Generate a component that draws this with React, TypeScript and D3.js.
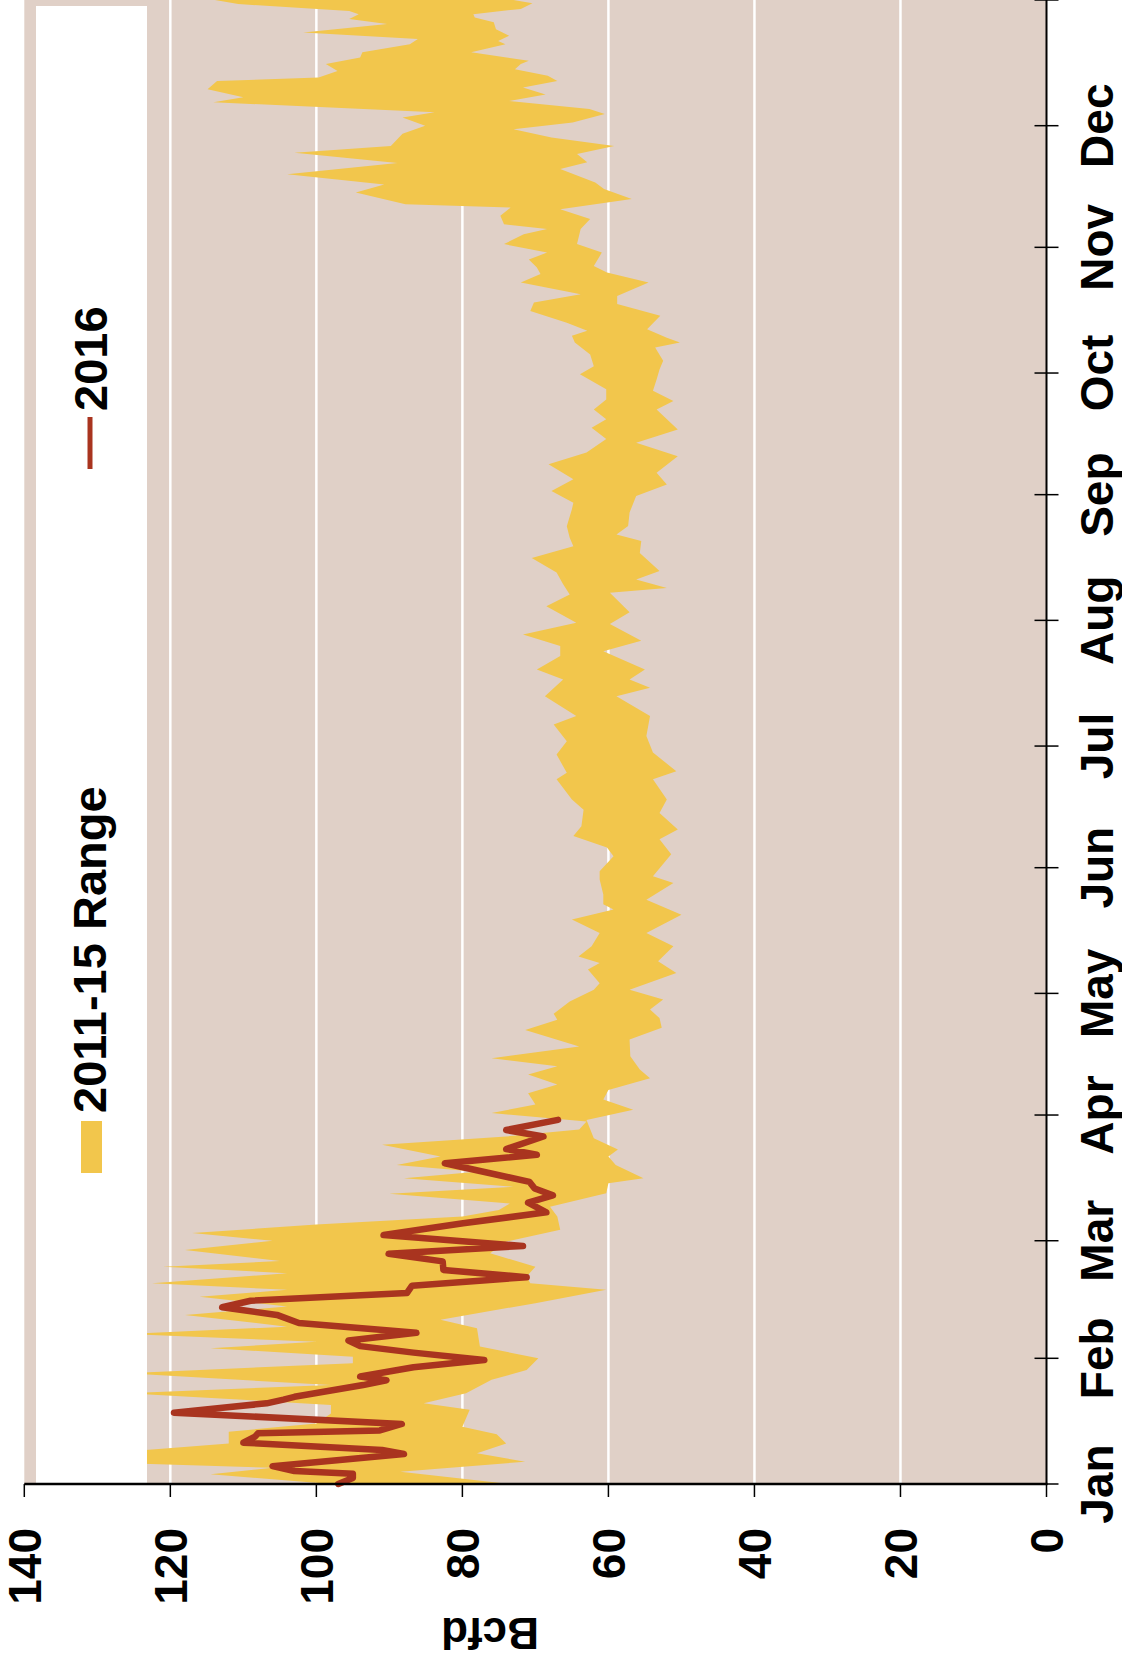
import React, { useEffect, useRef } from "react";
import * as d3 from "d3";

// day-of-year (0 = Jan 1 2016), Bcfd
const rangeHigh: [number, number][] = [
  [0, 98], [2.4, 114.5], [4, 106], [5.1, 126], [6.5, 124], [8, 126], [10, 112], [12.9, 112],
  [14.9, 100], [17.4, 98], [19.5, 98], [22.4, 126], [24.4, 98], [27.3, 126], [29.8, 95],
  [31.4, 95], [33.5, 114.5], [35.1, 100], [37, 126], [38.8, 104], [41.7, 118], [43.8, 104],
  [46.2, 116], [47.9, 104], [49.5, 122.5], [52, 104], [53.6, 121], [55, 105], [57.7, 118],
  [60, 106], [61.9, 117], [64, 100], [66, 80], [67.6, 75], [69.2, 73.5], [71.6, 90], [73.3, 73],
  [75.4, 88], [77, 78], [78.7, 89], [80.8, 83], [83.7, 91], [85.7, 74], [87.4, 64], [89.4, 63],
  [91.5, 76], [93.6, 70], [96.4, 71], [98.5, 67], [101, 71], [103, 67], [105, 76], [107.9, 64],
  [112, 71.4], [114.5, 67], [116, 67.5], [119, 65.3], [121.9, 62], [123.5, 61.2], [126.9, 62.8],
  [128.5, 61.2], [130.1, 64.1], [132.6, 62.3], [135.9, 61.2], [139.2, 65], [141.7, 59.3],
  [143, 60.7], [145.4, 60.7], [149.1, 61.2], [151.1, 61.2], [154.8, 59.3], [157, 60.2],
  [159.8, 64.8], [162.2, 63.7], [166.3, 63.4], [168.8, 65], [173.8, 67.1], [175.4, 65.7],
  [179.9, 67.1], [183.2, 65.7], [187.3, 67.5], [189.4, 64.4], [194.3, 68.7], [198.4, 66.2],
  [200.9, 69.8], [204.2, 66.6], [206.7, 66.6], [209.5, 71.7], [212.4, 64.4], [216.5, 68.5],
  [219.4, 65.3], [221.9, 66.2], [224.8, 67.1], [228.4, 70.5], [231.3, 64.8], [233.4, 65.3],
  [236.2, 65.7], [240.4, 65], [242, 64.8], [244.9, 67.8], [247.8, 64.8], [251.5, 68.2],
  [254.4, 63], [257.7, 60.3], [260.5, 62.3], [262.6, 60.3], [265, 62], [267.5, 60.3],
  [270, 60.3], [273.7, 63.9], [275.7, 62], [278.6, 62.5], [281.5, 64.6], [283.2, 65],
  [284.4, 62.9], [286.4, 65.7], [289.3, 70.7], [291.4, 70.2], [293.4, 63.8], [296.3, 72],
  [298.4, 69.3], [300, 69.8], [302, 70.9], [303.7, 68.4], [305.8, 74.3], [308.2, 71.6],
  [309.5, 68.4], [310.7, 74.3], [312.8, 74.8], [314.8, 73.4], [315.6, 87.8], [318.5, 94.6],
  [320.5, 90.7], [323, 104], [325.8, 88.9], [328.3, 103], [330, 89.8], [333, 88.2], [335, 85.1],
  [337, 88.2], [338.3, 83.8], [340.8, 114.1], [342, 110], [344, 114.9], [346, 113.6],
  [346.9, 99.7], [348.5, 97.1], [350.2, 98.7], [351.8, 94], [353.1, 93.7], [355.1, 87.2],
  [356.4, 86.1], [358, 101.8], [360.1, 90.3], [361.3, 95.5], [362.5, 94.2], [363.3, 95.5],
  [365, 110.7], [366, 113.9],
];

const rangeLow: [number, number][] = [
  [0, 73.5], [3, 88.5], [5.5, 71.4], [7.6, 78], [10, 74], [12.3, 75.3], [14.1, 80], [18.3, 79],
  [19.9, 85.3], [22.4, 79.5], [25.7, 76], [28.1, 71.2], [31, 69.6], [33.9, 77.6], [38.4, 78],
  [40.5, 83], [44.6, 70], [47.9, 60.3], [49.5, 70.7], [51.2, 71.2], [53.6, 70], [56.9, 76.2],
  [59.8, 74], [62.7, 66.6], [66, 67], [68.4, 68], [71.7, 60.3], [74.2, 60], [75.4, 55.2],
  [78.7, 59], [80.8, 60], [82.5, 58.7], [85.3, 62], [89.8, 63], [92.3, 56.6], [94.8, 60.7],
  [97.2, 60], [100.1, 54.3], [102.2, 55.7], [105.5, 57], [109.6, 57.1], [112.5, 52.7],
  [114.9, 53], [117, 54.3], [119.5, 52.5], [121.9, 57.1], [126, 50.7], [128.9, 53.2],
  [132.6, 51.1], [135.9, 54.8], [140.4, 50], [144.1, 54.8], [148.2, 51.1], [149.9, 53.9],
  [155.3, 51.4], [159, 53], [161.4, 50.5], [165.5, 53], [168.8, 52], [173.8, 53.9],
  [175.8, 50.7], [180.4, 53.9], [184.5, 54.8], [189.4, 54.3], [194.3, 58.9], [196.4, 54.3],
  [198.4, 57.1], [200.9, 55], [205.4, 60.7], [208, 55.5], [212.1, 59.8], [215, 57.1],
  [219.8, 59.8], [221, 52], [223.1, 56.2], [225.2, 53], [229.6, 55.7], [232.6, 55.5],
  [234.2, 58.9], [236.3, 57.3], [239.6, 57.1], [243.7, 56.2], [246.5, 52], [249.4, 53.4],
  [253.5, 50.5], [256.8, 56.2], [260.1, 50.5], [265, 53.4], [267.1, 51.1], [269.6, 53.9],
  [272.4, 53.4], [274.9, 53], [277, 52.5], [280.3, 53.6], [281.5, 50.2], [282.7, 52],
  [284.8, 54.7], [288.1, 52.9], [291, 58.8], [293, 58.8], [296.3, 54.5], [298.8, 60.2],
  [300.4, 62], [303.7, 60.9], [305.8, 64.3], [309.5, 63.8], [312, 62.5], [314.4, 66.6],
  [316.9, 56.8], [319.4, 60.6], [321, 61.8], [324.3, 66.6], [326, 62.9], [328, 64.3],
  [330, 59.2], [332.1, 67.8], [334.1, 73], [335.8, 64.9], [337.9, 60.5], [339.1, 62.6],
  [341.1, 73.6], [342.7, 68.6], [344.4, 71.7], [346, 67], [347.3, 68.3], [348.9, 72.8],
  [350.2, 72], [351, 70.9], [353.1, 78.8], [355.1, 74.1], [355.9, 75.1], [357.2, 73.6],
  [358.8, 75.4], [360.5, 75.7], [361.7, 78.3], [362.5, 78.5], [363.8, 72], [365.2, 70.4],
  [366, 73],
];

const line2016: [number, number][] = [
  [0, 97], [1.5, 95], [2.5, 95], [3.2, 103], [4.4, 106], [7.4, 88], [8.4, 91], [10.2, 110],
  [11.7, 108.4], [12.5, 108], [13.2, 91.3], [14.8, 88.3], [17.6, 119.5], [19.9, 106.8],
  [20.8, 104.5], [21.5, 103], [24.4, 93.6], [25.6, 90.4], [26.5, 94], [28.8, 86.7],
  [30.6, 77], [32.4, 86.7], [34, 94], [35.4, 95.6], [37.3, 86.3], [39.7, 102.4],
  [41.7, 105.4], [43.6, 112.9], [45.2, 109], [47.1, 87.6], [48.9, 86.9], [51, 71.2],
  [52.8, 82.6], [54.9, 82.7], [56.8, 90.1], [58.7, 71.7], [61.4, 90.8], [64.3, 79.9],
  [67, 68.5], [69.4, 71], [71.2, 67.6], [72.9, 70.1], [74.5, 70.8], [79.1, 82.4],
  [81.2, 69.8], [82.6, 74], [85.7, 68.9], [87.3, 74], [89.8, 66.9],
];

const valueTicks = [0, 20, 40, 60, 80, 100, 120, 140];
const gridValues = [20, 40, 60, 80, 100, 120];

const FONT = "'Liberation Sans', Arial, Helvetica, sans-serif";
const TAN = "#e0d0c7";
const YELLOW = "#f2c64c";
const RED = "#a9341f";

const W = 1122;
const H = 1663;

const start = Date.UTC(2016, 0, 1);
const toDate = (d: number) => new Date(start + d * 864e5);

const App = () => {
  const ref = useRef<SVGSVGElement>(null);

  useEffect(() => {
    if (!ref.current) return;
    const svg = d3.select(ref.current);
    svg.selectAll("*").remove();

    const x = d3.scaleLinear().domain([0, 140]).range([1046.5, 24.3]);
    const y = d3.scaleUtc().domain([new Date(start), new Date(Date.UTC(2017, 0, 1))]).range([1484, 0]);

    // plot background
    svg.append("rect")
      .attr("x", x(140)).attr("y", 0)
      .attr("width", x(0) - x(140)).attr("height", y(new Date(start)))
      .attr("fill", TAN);

    svg.append("g")
      .selectAll("line")
      .data(gridValues)
      .join("line")
      .attr("x1", (d) => x(d)).attr("x2", (d) => x(d))
      .attr("y1", 0).attr("y2", 1484)
      .attr("stroke", "#fff").attr("stroke-width", 2.5);

    // 2011-15 range polygon: high edge forward, low edge back
    const edge = d3.line<[number, number]>()
      .x((p) => x(p[1]))
      .y((p) => y(toDate(p[0])));
    const poly = [...rangeHigh, ...rangeLow.slice().reverse()];
    svg.append("path")
      .attr("d", edge(poly) + "Z")
      .attr("fill", YELLOW);

    svg.append("path")
      .attr("d", edge(line2016))
      .attr("fill", "none")
      .attr("stroke", RED)
      .attr("stroke-width", 6.5)
      .attr("stroke-linejoin", "round")
      .attr("stroke-linecap", "round");

    // legend
    const lg = svg.append("g");
    lg.append("rect").attr("x", 36).attr("y", 6).attr("width", 111).attr("height", 1478).attr("fill", "#fff");
    lg.append("rect").attr("x", 81).attr("y", 1121).attr("width", 21).attr("height", 52).attr("fill", YELLOW);
    lg.append("text")
      .attr("transform", "translate(106,1113) rotate(-90)")
      .attr("font-family", FONT).attr("font-weight", "bold").attr("font-size", 47)
      .text("2011-15 Range");
    lg.append("line")
      .attr("x1", 90).attr("x2", 90).attr("y1", 417).attr("y2", 469)
      .attr("stroke", RED).attr("stroke-width", 5);
    lg.append("text")
      .attr("transform", "translate(107,411) rotate(-90)")
      .attr("font-family", FONT).attr("font-weight", "bold").attr("font-size", 47)
      .text("2016");

    // month axis (vertical, at value 0)
    const months = d3.utcMonth.range(new Date(start), new Date(Date.UTC(2017, 0, 2)));
    const ax = svg.append("g");
    ax.append("line")
      .attr("x1", x(0)).attr("x2", x(0)).attr("y1", 0).attr("y2", 1485)
      .attr("stroke", "#000").attr("stroke-width", 2);
    ax.selectAll(".mt")
      .data(months)
      .join("line")
      .attr("x1", x(0) - 12).attr("x2", x(0) + 12)
      .attr("y1", (d) => y(d)).attr("y2", (d) => y(d))
      .attr("stroke", "#000").attr("stroke-width", 1.5);
    ax.selectAll(".ml")
      .data(months.filter((d) => d.getUTCFullYear() === 2016))
      .join("text")
      .attr("transform", (d) => `translate(1113,${y(d)}) rotate(-90)`)
      .attr("text-anchor", "middle")
      .attr("font-family", FONT).attr("font-weight", "bold").attr("font-size", 46)
      .text((d) => d3.utcFormat("%b")(d));

    // value axis (horizontal, at Jan 1)
    const vx = svg.append("g");
    vx.append("line")
      .attr("x1", x(140)).attr("x2", x(0) + 1).attr("y1", 1484).attr("y2", 1484)
      .attr("stroke", "#000").attr("stroke-width", 2.5);
    vx.selectAll(".vt")
      .data(valueTicks)
      .join("line")
      .attr("x1", (d) => x(d)).attr("x2", (d) => x(d))
      .attr("y1", 1484).attr("y2", 1497)
      .attr("stroke", "#000").attr("stroke-width", 1.5);
    vx.selectAll(".vl")
      .data(valueTicks)
      .join("text")
      .attr("transform", (d) => `translate(${x(d) + 16.5},1528) rotate(-90)`)
      .attr("text-anchor", "end")
      .attr("font-family", FONT).attr("font-weight", "bold").attr("font-size", 46)
      .text((d) => String(d));

    svg.append("text")
      .attr("transform", "translate(490,1618) rotate(180)")
      .attr("text-anchor", "middle")
      .attr("font-family", FONT).attr("font-weight", "bold").attr("font-size", 44)
      .text("Bcfd");
  }, []);

  return (
    <div style={{ position: "absolute", left: 0, top: 0 }}>
      <svg ref={ref} width={W} height={H} style={{ display: "block", background: "#fff" }} />
    </div>
  );
};

export default App;
